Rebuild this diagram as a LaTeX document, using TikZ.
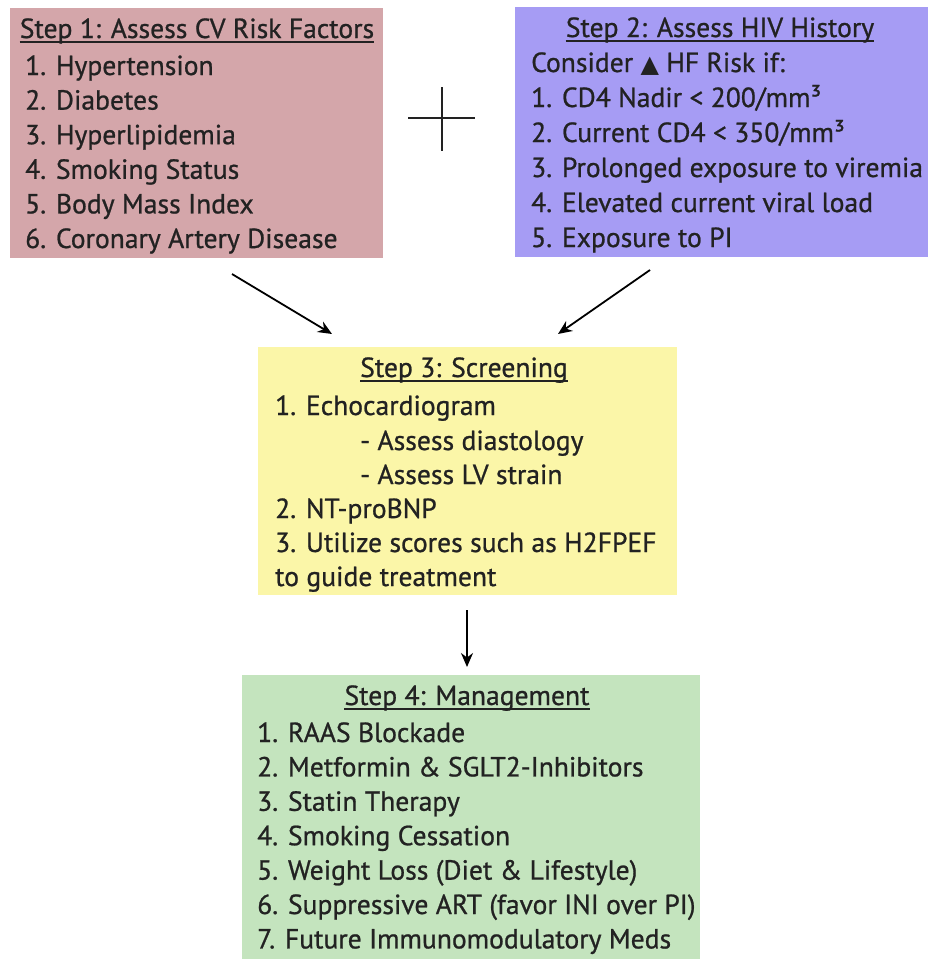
\documentclass[tikz,border=0pt]{standalone}
\usepackage{fontspec}
\setmainfont{PT Sans}[RawFeature={embolden=0.8}]
\newfontfamily\symfont{DejaVu Sans}
\usetikzlibrary{arrows.meta}
\definecolor{riskpink}{HTML}{D4A6AA}
\definecolor{hivblue}{HTML}{A69CF4}
\definecolor{screenyellow}{HTML}{FBF6A8}
\definecolor{managegreen}{HTML}{C4E4BE}
\definecolor{ink}{HTML}{222222}
\tikzset{
  box/.style={rectangle, inner sep=0pt, draw=none},
  item/.style={anchor=base west, inner sep=0pt, text=ink, font=\fontsize{27.6}{32}\selectfont},
  head/.style={anchor=base, inner sep=0pt, text=ink, font=\fontsize{27.6}{32}\selectfont},
  flow/.style={line width=1.8pt, -{Stealth[length=14pt, width=12pt]}},
}

\begin{document}
\begin{tikzpicture}[x=1pt, y=-1pt]
\useasboundingbox (0,0) rectangle (928,959);
% boxes
\node[box, fill=riskpink, minimum width=373pt, minimum height=250pt] (step1) at (196.5,133) {};
\node[box, fill=hivblue, minimum width=413pt, minimum height=250pt] (step2) at (721.5,132) {};
\node[box, fill=screenyellow, minimum width=419pt, minimum height=248pt] (step3) at (467.5,471) {};
\node[box, fill=managegreen, minimum width=458pt, minimum height=284pt] (step4) at (471,817) {};
% headings
\node[head] (h1) at (197,38) {Step 1: Assess CV Risk Factors};
\node[head] (h2) at (720,37) {Step 2: Assess HIV History};
\node[head] (h3) at (464,377) {Step 3: Screening};
\node[head] (h4) at (467,705) {Step 4: Management};
\foreach \h in {h1,h2,h3,h4}
  \draw[ink, line width=1.6pt] ([yshift=-4pt]\h.base west) -- ([yshift=-4pt]\h.base east);
% step 1
\foreach \t [count=\i] in {1. Hypertension, 2. Diabetes, 3. Hyperlipidemia,
    4. Smoking Status, 5. Body Mass Index, 6. Coronary Artery Disease}
  \node[item] (s1-\i) at (25,75+34.6*\i-34.6) {\t};
% step 2
\node[item] (s2-0) at (531,72) {Consider {\symfont\fontsize{24}{24}\selectfont ▲} HF Risk if:};
\foreach \t [count=\i] in {1. CD4 Nadir < 200/mm³, 2. Current CD4 < 350/mm³,
    3. Prolonged exposure to viremia, 4. Elevated current viral load, 5. Exposure to PI}
  \node[item] (s2-\i) at (531,72+35*\i) {\t};
% step 3
\node[item] (s3-1) at (275,415) {1. Echocardiogram};
\node[item] (s3-2) at (360,450) {- Assess diastology};
\node[item] (s3-3) at (360,484) {- Assess LV strain};
\node[item] (s3-4) at (275,518) {2. NT-proBNP};
\node[item] (s3-5) at (275,552) {3. Utilize scores such as H2FPEF};
\node[item] (s3-6) at (275,586) {to guide treatment};
% step 4
\foreach \t [count=\i] in {1. RAAS Blockade, 2. Metformin \& SGLT2-Inhibitors,
    3. Statin Therapy, 4. Smoking Cessation, 5. Weight Loss (Diet \& Lifestyle),
    6. Suppressive ART (favor INI over PI), 7. Future Immunomodulatory Meds}
  \node[item] (s4-\i) at (257,742+34.4*\i-34.4) {\t};
% plus sign
\draw[ink, line width=1.8pt] (408,118) -- (475,118) (442,87) -- (442,151);
% arrows
\coordinate (a1) at (232,274);
\coordinate (b1) at (332,334);
\coordinate (a2) at (650,270);
\coordinate (b2) at (558,334);
\coordinate (a3) at (467,610);
\coordinate (b3) at (467,667);
\draw[flow] (a1) -- (b1);
\draw[flow] (a2) -- (b2);
\draw[flow] (a3) -- (b3);
\end{tikzpicture}
\end{document}
